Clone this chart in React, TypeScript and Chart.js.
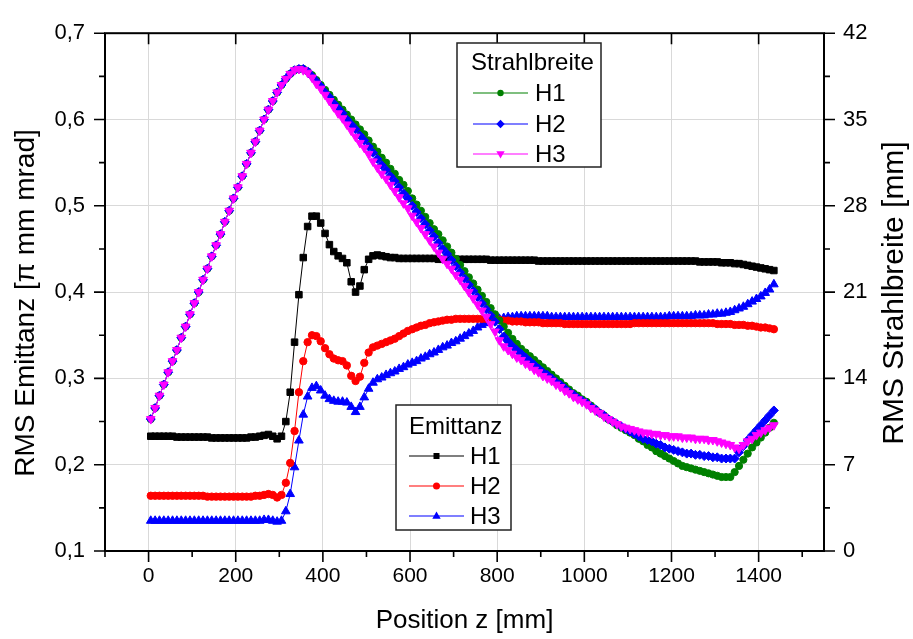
import React, { useEffect, useRef } from "react";
import { Chart, registerables } from "chart.js";

Chart.register(...registerables);

const FONT = '"Liberation Sans", Arial, Helvetica, sans-serif';

// Position z [mm] of every sample
const positionZ = [
  5, 15, 25, 35, 45, 55, 65, 75, 85, 95,
  105, 115, 125, 135, 145, 155, 165, 175, 185, 195,
  205, 215, 225, 235, 245, 255, 265, 275, 285, 295,
  305, 315, 325, 335, 345, 355, 365, 375, 385, 395,
  405, 415, 425, 435, 445, 455, 465, 475, 485, 495,
  505, 515, 525, 535, 545, 555, 565, 575, 585, 595,
  605, 615, 625, 635, 645, 655, 665, 675, 685, 695,
  705, 715, 725, 735, 745, 755, 765, 775, 785, 795,
  805, 815, 825, 835, 845, 855, 865, 875, 885, 895,
  905, 915, 925, 935, 945, 955, 965, 975, 985, 995,
  1005, 1015, 1025, 1035, 1045, 1055, 1065, 1075, 1085, 1095,
  1105, 1115, 1125, 1135, 1145, 1155, 1165, 1175, 1185, 1195,
  1205, 1215, 1225, 1235, 1245, 1255, 1265, 1275, 1285, 1295,
  1305, 1315, 1325, 1335, 1345, 1355, 1365, 1375, 1385, 1395,
  1405, 1415, 1425, 1435,
];

// RMS Emittanz [pi mm mrad]
const emittanzH1 = [
  0.233, 0.233, 0.233, 0.233, 0.233, 0.233, 0.232, 0.232, 0.232, 0.232,
  0.232, 0.232, 0.232, 0.232, 0.231, 0.231, 0.231, 0.231, 0.231, 0.231,
  0.231, 0.231, 0.231, 0.232, 0.232, 0.233, 0.234, 0.235, 0.233, 0.230,
  0.233, 0.250, 0.284, 0.342, 0.397, 0.440, 0.476, 0.488, 0.488, 0.480,
  0.468, 0.455, 0.447, 0.442, 0.439, 0.434, 0.412, 0.400, 0.407, 0.426,
  0.438, 0.442, 0.443, 0.442, 0.441, 0.440, 0.440, 0.439, 0.439, 0.439,
  0.439, 0.439, 0.439, 0.439, 0.439, 0.439, 0.438, 0.438, 0.438, 0.438,
  0.438, 0.438, 0.438, 0.438, 0.438, 0.438, 0.438, 0.438, 0.437, 0.437,
  0.437, 0.437, 0.437, 0.437, 0.437, 0.437, 0.437, 0.437, 0.437, 0.436,
  0.436, 0.436, 0.436, 0.436, 0.436, 0.436, 0.436, 0.436, 0.436, 0.436,
  0.436, 0.436, 0.436, 0.436, 0.436, 0.436, 0.436, 0.436, 0.436, 0.436,
  0.436, 0.436, 0.436, 0.436, 0.436, 0.436, 0.436, 0.436, 0.436, 0.436,
  0.436, 0.436, 0.436, 0.436, 0.436, 0.436, 0.435, 0.435, 0.435, 0.435,
  0.435, 0.434, 0.434, 0.434, 0.433, 0.433, 0.432, 0.431, 0.430, 0.429,
  0.428, 0.427, 0.426, 0.425,
];

const emittanzH2 = [
  0.164, 0.164, 0.164, 0.164, 0.164, 0.164, 0.164, 0.164, 0.164, 0.164,
  0.164, 0.164, 0.164, 0.163, 0.163, 0.163, 0.163, 0.163, 0.163, 0.163,
  0.163, 0.163, 0.163, 0.163, 0.164, 0.164, 0.165, 0.166, 0.165, 0.162,
  0.165, 0.179, 0.202, 0.239, 0.284, 0.320, 0.342, 0.350, 0.349, 0.343,
  0.335, 0.328, 0.323, 0.321, 0.320, 0.315, 0.303, 0.297, 0.302, 0.318,
  0.330, 0.336, 0.338, 0.340, 0.342, 0.344, 0.346, 0.349, 0.352, 0.355,
  0.357, 0.359, 0.361, 0.362, 0.364, 0.365, 0.366, 0.367, 0.368, 0.368,
  0.369, 0.369, 0.369, 0.369, 0.369, 0.369, 0.369, 0.369, 0.368, 0.368,
  0.368, 0.367, 0.367, 0.366, 0.366, 0.366, 0.365, 0.365, 0.365, 0.365,
  0.364, 0.364, 0.364, 0.364, 0.364, 0.363, 0.363, 0.363, 0.363, 0.363,
  0.363, 0.363, 0.363, 0.363, 0.363, 0.363, 0.363, 0.363, 0.363, 0.363,
  0.363, 0.364, 0.364, 0.364, 0.364, 0.364, 0.364, 0.364, 0.364, 0.364,
  0.364, 0.364, 0.364, 0.364, 0.364, 0.364, 0.364, 0.364, 0.364, 0.364,
  0.363, 0.363, 0.363, 0.363, 0.362, 0.362, 0.362, 0.361, 0.361, 0.360,
  0.359, 0.359, 0.358, 0.357,
];

const emittanzH3 = [
  0.135, 0.135, 0.135, 0.135, 0.135, 0.135, 0.135, 0.135, 0.135, 0.135,
  0.135, 0.135, 0.135, 0.135, 0.135, 0.135, 0.135, 0.135, 0.135, 0.135,
  0.135, 0.135, 0.135, 0.135, 0.135, 0.135, 0.136, 0.136, 0.135, 0.134,
  0.135, 0.146, 0.166, 0.197, 0.228, 0.258, 0.279, 0.289, 0.291, 0.286,
  0.280, 0.276, 0.274, 0.273, 0.273, 0.272, 0.267, 0.261, 0.267, 0.278,
  0.288, 0.295, 0.299, 0.301, 0.304, 0.306, 0.308, 0.311, 0.313, 0.316,
  0.318, 0.320, 0.323, 0.325, 0.328, 0.330, 0.333, 0.336, 0.338, 0.341,
  0.343, 0.346, 0.349, 0.352, 0.355, 0.359, 0.362, 0.364, 0.366, 0.368,
  0.369, 0.370, 0.371, 0.371, 0.372, 0.372, 0.372, 0.372, 0.372, 0.372,
  0.372, 0.372, 0.371, 0.371, 0.371, 0.371, 0.371, 0.371, 0.371, 0.371,
  0.371, 0.371, 0.371, 0.371, 0.371, 0.371, 0.371, 0.371, 0.371, 0.371,
  0.371, 0.371, 0.371, 0.371, 0.371, 0.371, 0.371, 0.371, 0.371, 0.372,
  0.372, 0.372, 0.372, 0.372, 0.372, 0.373, 0.373, 0.373, 0.374, 0.374,
  0.375, 0.375, 0.376, 0.377, 0.379, 0.381, 0.383, 0.386, 0.389, 0.392,
  0.395, 0.399, 0.403, 0.409,
];

// RMS Strahlbreite [mm]: common rise (z = 5 ... 345), identical for H1-H3
const strahlbreiteRise = [
  10.7, 11.6, 12.6, 13.5, 14.5, 15.4, 16.3, 17.3, 18.2, 19.2,
  20.1, 21.0, 22.0, 22.9, 23.9, 24.8, 25.7, 26.7, 27.6, 28.6,
  29.5, 30.4, 31.4, 32.3, 33.2, 34.1, 35.0, 35.8, 36.5, 37.2,
  37.8, 38.3, 38.7, 39.0, 39.1,
];

// z = 355 ... 1435
const strahlbreiteH1Tail = [
  39.1, 38.9, 38.6, 38.2, 37.8,
  37.4, 37.0, 36.6, 36.2, 35.8, 35.4, 35.0, 34.6, 34.2, 33.8,
  33.3, 32.8, 32.4, 31.9, 31.5, 31.0, 30.6, 30.1, 29.7, 29.2,
  28.6, 28.1, 27.6, 27.1, 26.6, 26.1, 25.7, 25.2, 24.7, 24.2,
  23.7, 23.2, 22.7, 22.2, 21.7, 21.2, 20.7, 20.2, 19.7, 19.2,
  18.7, 18.2, 17.7, 17.2, 16.8, 16.4, 16.1, 15.8, 15.5, 15.2,
  14.9, 14.6, 14.3, 14.0, 13.7, 13.4, 13.1, 12.8, 12.6, 12.3,
  12.1, 11.8, 11.5, 11.2, 11.0, 10.7, 10.5, 10.2, 10.0, 9.8,
  9.6, 9.4, 9.1, 8.9, 8.6, 8.4, 8.1, 7.9, 7.7, 7.5,
  7.3, 7.1, 6.9, 6.8, 6.7, 6.6, 6.5, 6.4, 6.3, 6.2,
  6.1, 6.0, 6.0, 6.0, 6.4, 6.9, 7.4, 7.9, 8.4, 8.8,
  9.2, 9.6, 10.0, 10.4,
];

const strahlbreiteH2Tail = [
  39.1, 38.9, 38.5, 38.1, 37.7,
  37.2, 36.8, 36.3, 35.9, 35.5, 35.0, 34.6, 34.2, 33.7, 33.3,
  32.8, 32.3, 31.8, 31.3, 30.9, 30.4, 30.0, 29.5, 29.0, 28.6,
  28.0, 27.5, 27.0, 26.5, 26.0, 25.5, 25.0, 24.5, 24.1, 23.6,
  23.1, 22.6, 22.1, 21.6, 21.1, 20.6, 20.1, 19.6, 19.1, 18.6,
  18.0, 17.4, 17.0, 16.6, 16.3, 16.0, 15.7, 15.4, 15.1, 14.8,
  14.5, 14.3, 14.0, 13.7, 13.5, 13.2, 12.9, 12.7, 12.4, 12.2,
  12.0, 11.7, 11.5, 11.2, 11.0, 10.7, 10.5, 10.3, 10.1, 9.9,
  9.7, 9.5, 9.3, 9.1, 9.0, 8.9, 8.7, 8.6, 8.4, 8.3,
  8.2, 8.1, 8.0, 7.9, 7.9, 7.8, 7.8, 7.7, 7.7, 7.6,
  7.6, 7.5, 7.5, 7.5, 7.5, 8.0, 8.5, 9.0, 9.4, 9.8,
  10.2, 10.6, 11.0, 11.4,
];

const strahlbreiteH3Tail = [
  39.0, 38.8, 38.4, 37.9, 37.5,
  37.0, 36.5, 36.0, 35.5, 35.1, 34.6, 34.1, 33.6, 33.1, 32.7,
  32.2, 31.6, 31.1, 30.6, 30.2, 29.7, 29.2, 28.7, 28.2, 27.8,
  27.2, 26.7, 26.2, 25.7, 25.2, 24.7, 24.2, 23.7, 23.3, 22.9,
  22.4, 22.0, 21.5, 21.0, 20.5, 20.0, 19.5, 19.0, 18.4, 17.8,
  17.1, 16.6, 16.3, 16.0, 15.7, 15.5, 15.2, 15.0, 14.7, 14.5,
  14.2, 14.0, 13.8, 13.5, 13.3, 13.0, 12.8, 12.5, 12.3, 12.1,
  11.9, 11.6, 11.4, 11.2, 10.9, 10.7, 10.5, 10.3, 10.1, 10.0,
  9.9, 9.8, 9.7, 9.6, 9.6, 9.5, 9.5, 9.4, 9.4, 9.3,
  9.3, 9.3, 9.2, 9.2, 9.2, 9.1, 9.1, 9.1, 9.0, 9.0,
  8.9, 8.8, 8.7, 8.6, 8.4, 8.3, 8.6, 8.9, 9.1, 9.4,
  9.6, 9.8, 10.0, 10.2,
];

const strahlbreiteH1 = [...strahlbreiteRise, ...strahlbreiteH1Tail];
const strahlbreiteH2 = [...strahlbreiteRise, ...strahlbreiteH2Tail];
const strahlbreiteH3 = [...strahlbreiteRise, ...strahlbreiteH3Tail];

// Axis ticks
const xMajorTicks = [0, 200, 400, 600, 800, 1000, 1200, 1400];
const xMinorTicks = [-100, 100, 300, 500, 700, 900, 1100, 1300, 1500];
const emittanzMajorTicks = [0.1, 0.2, 0.3, 0.4, 0.5, 0.6, 0.7];
const emittanzMinorTicks = [0.15, 0.25, 0.35, 0.45, 0.55, 0.65];
const strahlMajorTicks = [0, 7, 14, 21, 28, 35, 42];
const strahlMinorTicks = [3.5, 10.5, 17.5, 24.5, 31.5, 38.5];

const seriesLabels = ["H1", "H2", "H3"];

type MarkerKind = "square" | "circle" | "triangle" | "diamond" | "triangleDown" | "dot";

function drawMarker(ctx: CanvasRenderingContext2D, kind: MarkerKind, x: number, y: number, color: string) {
  ctx.fillStyle = color;
  ctx.beginPath();
  if (kind === "square") {
    ctx.rect(x - 3, y - 3, 6, 6);
  } else if (kind === "circle") {
    ctx.arc(x, y, 3.5, 0, Math.PI * 2);
  } else if (kind === "dot") {
    ctx.arc(x, y, 3.2, 0, Math.PI * 2);
  } else if (kind === "triangle") {
    ctx.moveTo(x, y - 4.5);
    ctx.lineTo(x + 4.2, y + 2.8);
    ctx.lineTo(x - 4.2, y + 2.8);
  } else if (kind === "triangleDown") {
    ctx.moveTo(x, y + 4.5);
    ctx.lineTo(x + 4.2, y - 2.8);
    ctx.lineTo(x - 4.2, y - 2.8);
  } else {
    ctx.moveTo(x, y - 4.2);
    ctx.lineTo(x + 4.2, y);
    ctx.lineTo(x, y + 4.2);
    ctx.lineTo(x - 4.2, y);
  }
  ctx.closePath();
  ctx.fill();
}

interface LegendSpec {
  left: number;
  top: number;
  width: number;
  height: number;
  title: string;
  titleX: number;
  titleY: number;
  rowY: number[];
  lineX0: number;
  lineX1: number;
  textX: number;
  colors: string[];
  markers: MarkerKind[];
}

function drawLegendBox(ctx: CanvasRenderingContext2D, s: LegendSpec) {
  ctx.save();
  ctx.fillStyle = "#ffffff";
  ctx.fillRect(s.left, s.top, s.width, s.height);
  ctx.strokeStyle = "#222222";
  ctx.lineWidth = 1.5;
  ctx.strokeRect(s.left, s.top, s.width, s.height);
  ctx.fillStyle = "#000";
  ctx.textBaseline = "middle";
  ctx.textAlign = "left";
  ctx.font = `24px ${FONT}`;
  ctx.fillText(s.title, s.titleX, s.titleY);
  s.rowY.forEach((ry, i) => {
    ctx.strokeStyle = s.colors[i];
    ctx.lineWidth = 1.2;
    ctx.beginPath();
    ctx.moveTo(s.lineX0, ry);
    ctx.lineTo(s.lineX1, ry);
    ctx.stroke();
    drawMarker(ctx, s.markers[i], (s.lineX0 + s.lineX1) / 2, ry, s.colors[i]);
    ctx.fillStyle = "#000";
    ctx.font = `24px ${FONT}`;
    ctx.fillText(seriesLabels[i], s.textX, ry + 1);
  });
  ctx.restore();
}

const decorPlugin = {
  id: "decor",
  afterDraw(chart: any) {
    const { ctx, chartArea: a, scales } = chart;
    const xs = scales.x;
    const ys = scales.y;
    const y1 = scales.y1;
    ctx.save();
    ctx.strokeStyle = "#000";
    ctx.lineWidth = 1.6;
    ctx.beginPath();
    const major = 11;
    const minor = 6;
    xMajorTicks.forEach((v) => {
      const px = xs.getPixelForValue(v);
      ctx.moveTo(px, a.bottom);
      ctx.lineTo(px, a.bottom + major);
      ctx.moveTo(px, a.top);
      ctx.lineTo(px, a.top + major);
    });
    xMinorTicks.forEach((v) => {
      const px = xs.getPixelForValue(v);
      ctx.moveTo(px, a.bottom);
      ctx.lineTo(px, a.bottom + minor);
    });
    emittanzMajorTicks.forEach((v) => {
      const py = ys.getPixelForValue(v);
      ctx.moveTo(a.left - major, py);
      ctx.lineTo(a.left, py);
    });
    emittanzMinorTicks.forEach((v) => {
      const py = ys.getPixelForValue(v);
      ctx.moveTo(a.left - minor, py);
      ctx.lineTo(a.left, py);
    });
    strahlMajorTicks.forEach((v) => {
      const py = y1.getPixelForValue(v);
      ctx.moveTo(a.right, py);
      ctx.lineTo(a.right + major, py);
    });
    strahlMinorTicks.forEach((v) => {
      const py = y1.getPixelForValue(v);
      ctx.moveTo(a.right, py);
      ctx.lineTo(a.right + minor, py);
    });
    ctx.stroke();

    ctx.lineWidth = 2;
    ctx.strokeRect(a.left, a.top, a.right - a.left, a.bottom - a.top);

    // axis titles (vertical)
    ctx.fillStyle = "#000";
    ctx.textAlign = "center";
    ctx.textBaseline = "middle";
    ctx.font = `28px ${FONT}`;
    ctx.save();
    ctx.translate(26, 303);
    ctx.rotate(-Math.PI / 2);
    ctx.fillText("RMS Emittanz [\u03c0 mm mrad]", 0, 0);
    ctx.restore();
    ctx.font = `30px ${FONT}`;
    ctx.save();
    ctx.translate(895, 293);
    ctx.rotate(-Math.PI / 2);
    ctx.fillText("RMS Strahlbreite [mm]", 0, 0);
    ctx.restore();

    drawLegendBox(ctx, {
      left: 457, top: 43, width: 144, height: 124,
      title: "Strahlbreite", titleX: 471, titleY: 63,
      rowY: [93, 124, 154], lineX0: 473, lineX1: 528, textX: 535,
      colors: ["#008000", "#0000ff", "#ff00ff"],
      markers: ["dot", "diamond", "triangleDown"],
    });
    drawLegendBox(ctx, {
      left: 396, top: 405, width: 115, height: 125,
      title: "Emittanz", titleX: 409, titleY: 427,
      rowY: [456, 486, 516], lineX0: 409, lineX1: 464, textX: 470,
      colors: ["#000000", "#ff0000", "#0000ff"],
      markers: ["square", "circle", "triangle"],
    });
    ctx.restore();
  },
};

function toPoints(values: number[]) {
  return values.map((v, i) => ({ x: positionZ[i], y: v }));
}

export default function App() {
  const canvasRef = useRef<HTMLCanvasElement | null>(null);

  useEffect(() => {
    const canvas = canvasRef.current;
    if (!canvas) return;
    const common = { borderWidth: 1, pointBorderWidth: 1, pointHoverRadius: 0, showLine: true, tension: 0 };
    const chart = new Chart(canvas, {
      type: "line",
      data: {
        datasets: [
          { ...common, label: "Strahlbreite H3", data: toPoints(strahlbreiteH3), yAxisID: "y1",
            borderColor: "#ff00ff", backgroundColor: "#ff00ff", pointBorderColor: "#ff00ff",
            pointStyle: "triangle", rotation: 180, pointRadius: 5 },
          { ...common, label: "Strahlbreite H2", data: toPoints(strahlbreiteH2), yAxisID: "y1",
            borderColor: "#0000ff", backgroundColor: "#0000ff", pointBorderColor: "#0000ff",
            pointStyle: "rectRot", pointRadius: 4.5 },
          { ...common, label: "Strahlbreite H1", data: toPoints(strahlbreiteH1), yAxisID: "y1",
            borderColor: "#008000", backgroundColor: "#008000", pointBorderColor: "#008000",
            pointStyle: "circle", pointRadius: 3.6 },
          { ...common, label: "Emittanz H1", data: toPoints(emittanzH1), yAxisID: "y",
            borderColor: "#000000", backgroundColor: "#000000", pointBorderColor: "#000000",
            pointStyle: "rect", pointRadius: 4.6 },
          { ...common, label: "Emittanz H2", data: toPoints(emittanzH2), yAxisID: "y",
            borderColor: "#ff0000", backgroundColor: "#ff0000", pointBorderColor: "#ff0000",
            pointStyle: "circle", pointRadius: 3.7 },
          { ...common, label: "Emittanz H3", data: toPoints(emittanzH3), yAxisID: "y",
            borderColor: "#0000ff", backgroundColor: "#0000ff", pointBorderColor: "#0000ff",
            pointStyle: "triangle", pointRadius: 5 },
        ],
      },
      options: {
        responsive: false,
        animation: false,
        events: [],
        layout: { padding: { top: 20, left: 0, right: 0, bottom: 0 } },
        plugins: { legend: { display: false }, tooltip: { enabled: false } },
        scales: {
          x: {
            type: "linear",
            min: -100,
            max: 1550,
            afterBuildTicks: (s: any) => { s.ticks = xMajorTicks.map((v) => ({ value: v })); },
            afterFit: (s: any) => { s.height = 88; },
            ticks: { color: "#000", font: { family: FONT, size: 21 }, padding: 13, maxRotation: 0, autoSkip: false,
              callback: (v: any) => String(v) },
            grid: { color: "#d9d9d9", lineWidth: 1, drawTicks: false },
            border: { display: false },
            title: { display: true, text: "Position z [mm]", color: "#000",
              font: { family: FONT, size: 26 }, padding: { top: 0, bottom: 3 } },
          },
          y: {
            type: "linear",
            position: "left",
            min: 0.1,
            max: 0.7,
            afterBuildTicks: (s: any) => { s.ticks = emittanzMajorTicks.map((v) => ({ value: v })); },
            afterFit: (s: any) => { s.width = 105; },
            ticks: { color: "#000", font: { family: FONT, size: 22 }, padding: 20, autoSkip: false,
              callback: (v: any) => Number(v).toFixed(1).replace(".", ",") },
            grid: { color: "#d9d9d9", lineWidth: 1, drawTicks: false },
            border: { display: false },
          },
          y1: {
            type: "linear",
            position: "right",
            min: 0,
            max: 42,
            afterBuildTicks: (s: any) => { s.ticks = strahlMajorTicks.map((v) => ({ value: v })); },
            afterFit: (s: any) => { s.width = 89; },
            ticks: { color: "#000", font: { family: FONT, size: 22 }, padding: 19, autoSkip: false,
              callback: (v: any) => String(v) },
            grid: { display: false, drawTicks: false },
            border: { display: false },
          },
        },
      },
      plugins: [decorPlugin],
    } as any);
    return () => chart.destroy();
  }, []);

  return (
    <div style={{ position: "fixed", left: 0, top: 0, width: 913, height: 639, background: "#fff" }}>
      <canvas ref={canvasRef} width={913} height={639} style={{ display: "block", width: 913, height: 639 }} />
    </div>
  );
}
